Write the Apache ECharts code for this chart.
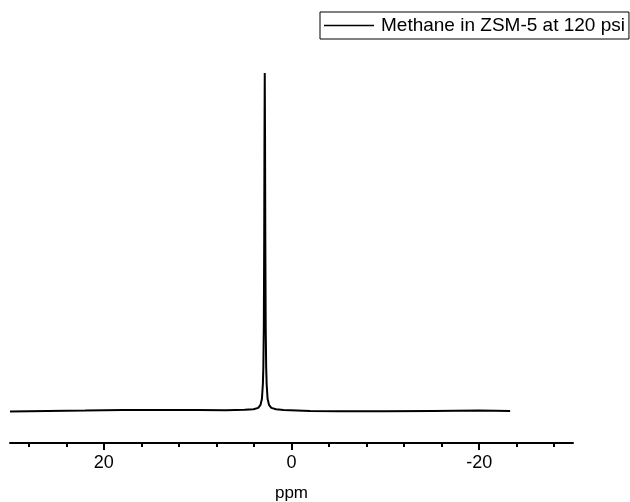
<!DOCTYPE html>
<html>
<head>
<meta charset="utf-8">
<title>Methane NMR</title>
<script src="https://cdn.jsdelivr.net/npm/echarts@6/dist/echarts.min.js"></script>
<style>
    html, body { margin: 0; padding: 0; background: #fff; }
    #chart { width: 630px; height: 502px; }
</style>
</head>
<body>
<div id="chart"></div>
<script type="text/javascript">
    // spectrum: [ppm, intensity]
    var spectrum = [
        [30, -0.2], [26, 0.0], [22, 0.1], [18, 0.3], [14, 0.3], [10, 0.3],
        [7, 0.2], [5, 0.35], [4.05, 0.5], [3.55, 0.9], [3.3, 1.8], [3.15, 3.6],
        [3.05, 8], [3.0, 13], [2.95, 25], [2.91, 50], [2.88, 80], [2.85, 100],
        [2.82, 80], [2.79, 50], [2.75, 25], [2.7, 13], [2.65, 8], [2.55, 3.6],
        [2.4, 1.8], [2.15, 0.9], [1.65, 0.5], [0.85, 0.3], [-2, 0.0], [-5, -0.1],
        [-10, -0.1], [-15, 0.0], [-20, 0.1], [-23.3, 0.0]
    ];
    var seriesName = 'Methane in ZSM-5 at 120 psi';
    var majorTicks = [20, 0, -20];
    var minorTicks = [28, 24, 16, 12, 8, 4, -4, -8, -12, -16, -24, -28];

    var myChart = echarts.init(document.getElementById('chart'));

    var option = {
        animation: false,
        backgroundColor: '#fff',
        legend: {
            left: 320,
            top: 12,
            orient: 'horizontal',
            borderColor: '#000',
            borderWidth: 1,
            borderRadius: 0,
            padding: [4, 4, 4, 4],
            icon: 'rect',
            itemWidth: 50,
            itemHeight: 1.6,
            itemGap: 6,
            itemStyle: { color: '#000' },
            textStyle: { fontFamily: 'Liberation Sans', fontSize: 19, color: '#000', padding: [0, 0, 0, 2] },
            data: [seriesName]
        },
        grid: { left: 10, right: 57, top: 73, bottom: 59, outerBoundsMode: 'none' },
        xAxis: [{
            type: 'value',
            min: -30,
            max: 30,
            inverse: true,
            name: 'ppm',
            nameLocation: 'middle',
            nameGap: 42,
            nameTextStyle: { fontFamily: 'Liberation Sans', fontSize: 17, color: '#000' },
            splitLine: { show: false },
            axisLine: { onZero: false, lineStyle: { color: '#000', width: 2 } },
            axisTick: { customValues: majorTicks, length: 7, inside: false, lineStyle: { color: '#000', width: 2 } },
            axisLabel: { customValues: majorTicks, margin: 11, fontFamily: 'Liberation Sans', fontSize: 18, color: '#000' }
        }, {
            type: 'value',
            min: -30,
            max: 30,
            inverse: true,
            position: 'bottom',
            splitLine: { show: false },
            axisLine: { show: false, onZero: false },
            axisTick: { customValues: minorTicks, length: 4, lineStyle: { color: '#000', width: 2 } },
            axisLabel: { show: false }
        }],
        yAxis: {
            type: 'value',
            min: -9.5,
            max: 100,
            show: false
        },
        series: [{
            name: seriesName,
            type: 'line',
            xAxisIndex: 0,
            data: spectrum,
            symbol: 'none',
            showSymbol: false,
            smooth: false,
            lineStyle: { color: '#000', width: 2 },
            itemStyle: { color: '#000' }
        }]
    };
    myChart.setOption(option, true);
</script>
</body>
</html>
